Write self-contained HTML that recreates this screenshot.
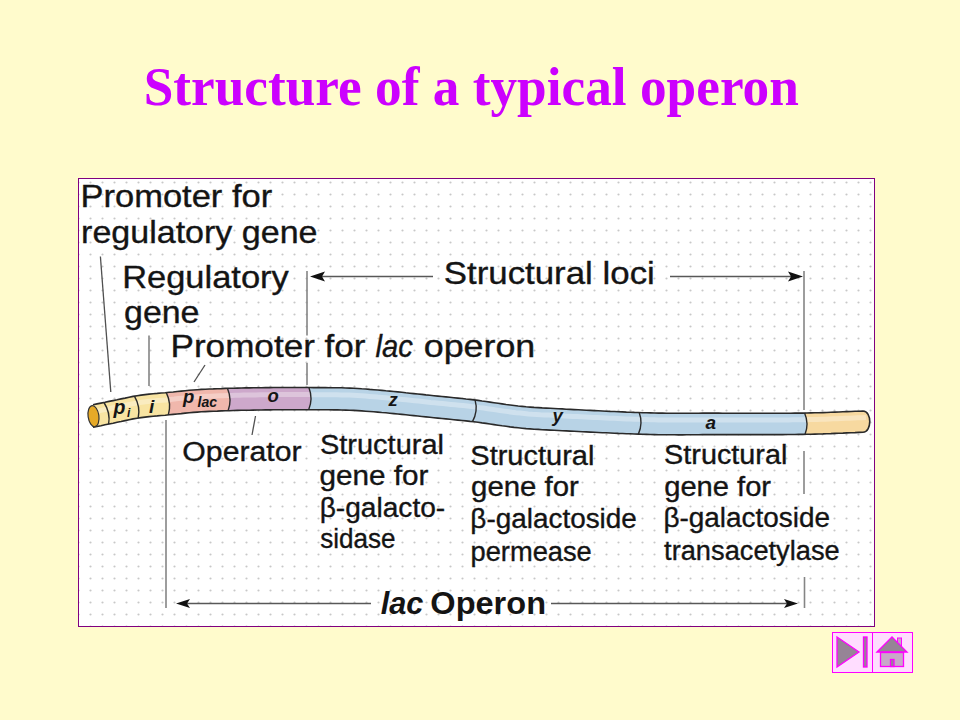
<!DOCTYPE html>
<html>
<head>
<meta charset="utf-8">
<style>
html,body{margin:0;padding:0;}
body{width:960px;height:720px;overflow:hidden;background:#FFFBCC;position:relative;}
svg{position:absolute;left:0;top:0;}
.t{font-family:"Liberation Sans",sans-serif;fill:#141414;stroke:#141414;stroke-width:0.35px;}
.ttl{font-family:"Liberation Serif",serif;font-weight:bold;fill:#CC00FF;}
</style>
</head>
<body>
<svg width="960" height="720" viewBox="0 0 960 720">
<defs>
<pattern id="dots" x="0" y="0" width="12" height="12" patternUnits="userSpaceOnUse">
<circle cx="6.5" cy="2.5" r="1.1" fill="#c8c8c8"/>
</pattern>
</defs>
<!-- title -->
<text x="143.68" y="105.20" font-size="55" textLength="655.20" lengthAdjust="spacingAndGlyphs" class="ttl">Structure of a typical operon</text>


<!-- diagram box -->
<rect x="78.5" y="178.5" width="796" height="448" fill="#ffffff" stroke="#800080" stroke-width="1"/>
<rect x="79" y="179" width="795" height="447" fill="url(#dots)"/>

<!-- labels -->
<g class="t">
<text x="80.47" y="206.50" font-size="31.5" textLength="191.70" lengthAdjust="spacingAndGlyphs">Promoter for</text>
<text x="81.05" y="242.50" font-size="31.5" textLength="236.45" lengthAdjust="spacingAndGlyphs">regulatory gene</text>
<text x="122.17" y="287.50" font-size="31.5" textLength="166.63" lengthAdjust="spacingAndGlyphs">Regulatory</text>
<text x="124.09" y="322.80" font-size="31.5" textLength="75.40" lengthAdjust="spacingAndGlyphs">gene</text>
<text x="170.52" y="357.00" font-size="31.5" textLength="195.06" lengthAdjust="spacingAndGlyphs">Promoter for</text>
<text x="375.53" y="357.00" font-size="31.5" textLength="37.38" lengthAdjust="spacingAndGlyphs" font-style="italic">lac</text>
<text x="423.71" y="357.00" font-size="31.5" textLength="111.61" lengthAdjust="spacingAndGlyphs">operon</text>
<text x="443.73" y="283.50" font-size="32" textLength="211.11" lengthAdjust="spacingAndGlyphs">Structural loci</text>
<text x="182.38" y="461.00" font-size="27" textLength="119.11" lengthAdjust="spacingAndGlyphs">Operator</text>
<text x="320.00" y="454.00" font-size="27" textLength="123.94" lengthAdjust="spacingAndGlyphs">Structural</text>
<text x="319.57" y="485.00" font-size="27" textLength="108.92" lengthAdjust="spacingAndGlyphs">gene for</text>
<text x="319.66" y="517.00" font-size="27" textLength="125.57" lengthAdjust="spacingAndGlyphs">β-galacto-</text>
<text x="320.18" y="548.30" font-size="27" textLength="75.27" lengthAdjust="spacingAndGlyphs">sidase</text>
<text x="470.29" y="465.00" font-size="27" textLength="124.14" lengthAdjust="spacingAndGlyphs">Structural</text>
<text x="471.08" y="496.00" font-size="27" textLength="107.80" lengthAdjust="spacingAndGlyphs">gene for</text>
<text x="470.38" y="528.00" font-size="27" textLength="166.46" lengthAdjust="spacingAndGlyphs">β-galactoside</text>
<text x="470.55" y="560.70" font-size="27" textLength="121.25" lengthAdjust="spacingAndGlyphs">permease</text>
<text x="664.10" y="464.20" font-size="27" textLength="123.22" lengthAdjust="spacingAndGlyphs">Structural</text>
<text x="664.19" y="495.80" font-size="27" textLength="106.89" lengthAdjust="spacingAndGlyphs">gene for</text>
<text x="663.47" y="527.00" font-size="27" textLength="166.56" lengthAdjust="spacingAndGlyphs">β-galactoside</text>
<text x="664.09" y="559.50" font-size="27" textLength="175.61" lengthAdjust="spacingAndGlyphs">transacetylase</text>
<text x="380.73" y="613.70" font-size="31" textLength="42.72" lengthAdjust="spacingAndGlyphs" font-style="italic" font-weight="bold" stroke-width="0">lac</text>
<text x="430.37" y="613.70" font-size="31" textLength="115.64" lengthAdjust="spacingAndGlyphs" font-weight="bold" stroke-width="0">Operon</text>

</g>

<path d="M93 404.7 L98.5 403.6 L104 402.5 Q110.7 413 108.6 424.1 L103.4 425.2 L98.2 426.2 L93 427.3 Z" fill="#F8E4A2"/>
<path d="M104 402.5 L108.3 401.6 L112.7 400.7 L117 399.8 L121.4 398.9 L125.7 397.9 L130.1 397 L134.4 396.2 Q140.7 406.9 138.2 418 L133.9 418.8 L129.7 419.6 L125.5 420.5 L121.3 421.4 L117.1 422.3 L112.9 423.2 L108.6 424.1 Q110.7 413 104 402.5 Z" fill="#F8E4A2"/>
<path d="M134.4 396.2 L139 395.4 L143.5 394.8 L148.1 394.2 L152.6 393.8 L157.2 393.4 L161.7 393 L166.3 392.6 Q171.7 403.6 168.3 414.9 L164 415.3 L159.7 415.6 L155.4 416 L151.1 416.4 L146.8 416.9 L142.5 417.4 L138.2 418 Q140.7 406.9 134.4 396.2 Z" fill="#F8E4A2"/>
<path d="M166.3 392.6 L170.3 392.2 L174.4 391.8 L178.5 391.4 L182.6 391 L186.7 390.6 L190.7 390.2 L194.8 389.8 L198.9 389.6 L203 389.3 L207.1 389.1 L211.1 389 L215.2 388.8 L219.3 388.6 L223.4 388.5 L227.5 388.4 Q232.2 399.5 228.1 410.7 L223.9 410.8 L219.6 411 L215.3 411.2 L211 411.3 L206.8 411.5 L202.5 411.8 L198.2 412 L194 412.3 L189.7 412.7 L185.4 413.1 L181.2 413.6 L176.9 414 L172.6 414.5 L168.3 414.9 Q171.7 403.6 166.3 392.6 Z" fill="#F0B7AC"/>
<path d="M227.5 388.4 L231.5 388.2 L235.6 388.1 L239.7 388 L243.8 388 L247.8 387.9 L251.9 387.8 L256 387.7 L260 387.7 L264.1 387.6 L268.2 387.6 L272.2 387.6 L276.3 387.5 L280.4 387.5 L284.4 387.5 L288.5 387.5 L292.6 387.5 L296.7 387.5 L300.7 387.5 L304.8 387.5 L308.9 387.5 Q313.2 398.6 308.7 409.7 L304.7 409.7 L300.7 409.7 L296.6 409.7 L292.6 409.7 L288.6 409.7 L284.6 409.7 L280.5 409.8 L276.5 409.8 L272.5 409.8 L268.4 409.9 L264.4 409.9 L260.4 410 L256.3 410 L252.3 410.1 L248.3 410.2 L244.2 410.3 L240.2 410.4 L236.2 410.5 L232.2 410.6 L228.1 410.7 Q232.2 399.5 227.5 388.4 Z" fill="#CDA8CB"/>
<path d="M308.9 387.5 L312.9 387.6 L317 387.6 L321 387.6 L325.1 387.6 L329.1 387.7 L333.2 387.7 L337.3 387.8 L341.3 387.8 L345.4 387.9 L349.4 388.1 L353.5 388.3 L357.5 388.5 L361.6 388.8 L365.6 389 L369.7 389.4 L373.8 389.7 L377.8 390 L381.9 390.4 L385.9 390.8 L390 391.2 L394 391.6 L398.1 392 L402.1 392.4 L406.2 392.8 L410.3 393.2 L414.3 393.7 L418.4 394.1 L422.4 394.5 L426.5 394.9 L430.5 395.4 L434.6 395.8 L438.6 396.2 L442.7 396.6 L446.8 397 L450.8 397.4 L454.9 397.8 L458.9 398.2 L463 398.7 L467 399.1 L471.1 399.6 L475.1 400.1 Q478.2 411 472.5 421.6 L468.4 421.2 L464.3 420.7 L460.2 420.3 L456.1 419.9 L452 419.5 L447.9 419.1 L443.8 418.7 L439.7 418.3 L435.6 417.9 L431.5 417.4 L427.4 417 L423.3 416.6 L419.2 416.2 L415.2 415.8 L411.1 415.3 L407 414.9 L402.9 414.5 L398.8 414.1 L394.7 413.7 L390.6 413.3 L386.5 412.9 L382.4 412.5 L378.3 412.2 L374.2 411.8 L370.1 411.5 L366 411.2 L361.9 410.9 L357.8 410.6 L353.8 410.4 L349.7 410.2 L345.6 410.1 L341.5 410 L337.4 409.9 L333.3 409.9 L329.2 409.8 L325.1 409.8 L321 409.8 L316.9 409.8 L312.8 409.8 L308.7 409.7 Q313.2 398.6 308.9 387.5 Z" fill="#B8D3E6"/>
<path d="M475.1 400.1 L479.1 400.6 L483.1 401.1 L487.1 401.7 L491.1 402.3 L495.1 402.9 L499.2 403.5 L503.2 404.1 L507.2 404.6 L511.2 405.2 L515.2 405.6 L519.2 406.1 L523.2 406.5 L527.2 406.9 L531.2 407.2 L535.2 407.4 L539.2 407.7 L543.2 407.9 L547.2 408.2 L551.2 408.4 L555.2 408.6 L559.2 408.8 L563.2 409 L567.2 409.2 L571.2 409.4 L575.2 409.6 L579.2 409.8 L583.2 410 L587.2 410.2 L591.2 410.4 L595.2 410.6 L599.2 410.8 L603.2 411 L607.2 411.2 L611.2 411.4 L615.2 411.6 L619.2 411.7 L623.2 411.9 L627.2 412.1 L631.2 412.3 L635.2 412.4 L639.2 412.6 Q643.2 423.4 638.4 434.1 L634.4 434 L630.3 433.8 L626.3 433.7 L622.2 433.5 L618.2 433.4 L614.1 433.2 L610.1 433 L606 432.8 L602 432.6 L597.9 432.5 L593.9 432.3 L589.8 432.1 L585.8 431.9 L581.7 431.7 L577.7 431.5 L573.6 431.3 L569.6 431.1 L565.5 430.9 L561.5 430.7 L557.5 430.4 L553.4 430.2 L549.4 430 L545.3 429.8 L541.3 429.6 L537.2 429.4 L533.2 429.1 L529.1 428.8 L525.1 428.5 L521 428.1 L517 427.7 L512.9 427.2 L508.9 426.7 L504.8 426.1 L500.8 425.6 L496.7 425 L492.7 424.4 L488.6 423.8 L484.6 423.2 L480.6 422.7 L476.5 422.1 L472.5 421.6 Q478.2 411 475.1 400.1 Z" fill="#B8D3E6"/>
<path d="M639.2 412.6 L643.2 412.7 L647.3 412.8 L651.3 412.9 L655.3 413 L659.4 413.1 L663.4 413.2 L667.4 413.2 L671.5 413.2 L675.5 413.3 L679.5 413.3 L683.6 413.3 L687.6 413.3 L691.7 413.2 L695.7 413.2 L699.7 413.1 L703.8 413.1 L707.8 413.1 L711.8 413.1 L715.9 413.1 L719.9 413.1 L723.9 413.2 L728 413.2 L732 413.2 L736 413.2 L740.1 413.2 L744.1 413.2 L748.1 413.2 L752.2 413.2 L756.2 413.2 L760.3 413.2 L764.3 413.2 L768.3 413.2 L772.4 413.2 L776.4 413.2 L780.4 413.2 L784.5 413.2 L788.5 413.2 L792.5 413.2 L796.6 413.1 L800.6 413.1 L804.6 413 Q809.2 423.7 805 434.4 L800.9 434.4 L796.8 434.5 L792.8 434.5 L788.7 434.5 L784.6 434.6 L780.6 434.6 L776.5 434.6 L772.5 434.6 L768.4 434.6 L764.3 434.6 L760.3 434.6 L756.2 434.6 L752.1 434.6 L748.1 434.6 L744 434.6 L740 434.6 L735.9 434.6 L731.8 434.6 L727.8 434.6 L723.7 434.6 L719.7 434.6 L715.6 434.6 L711.5 434.6 L707.5 434.6 L703.4 434.6 L699.3 434.7 L695.3 434.7 L691.2 434.8 L687.2 434.8 L683.1 434.9 L679 434.9 L675 434.8 L670.9 434.8 L666.8 434.8 L662.8 434.7 L658.7 434.7 L654.7 434.6 L650.6 434.5 L646.5 434.4 L642.5 434.3 L638.4 434.1 Q643.2 423.4 639.2 412.6 Z" fill="#B8D3E6"/>
<path d="M804.6 413 L808.8 413 L813 412.9 L817.1 412.8 L821.3 412.7 L825.5 412.5 L829.7 412.4 L833.8 412.2 L838 412 L842.2 411.8 L846.3 411.7 L850.5 411.5 L854.7 411.3 L858.8 411.2 L863 411 C872 411 872 432.2 863 432.2 L858.9 432.4 L854.7 432.6 L850.6 432.7 L846.4 432.9 L842.3 433.1 L838.1 433.3 L834 433.5 L829.8 433.6 L825.7 433.8 L821.5 433.9 L817.4 434.1 L813.3 434.2 L809.1 434.3 L805 434.4 Q809.2 423.7 804.6 413 Z" fill="#F7D9A0"/>
<path d="M97 411.2 L101.1 410.4 L105.1 409.5 L109.2 408.7 L113.3 407.8 L117.3 407 L121.4 406.1 L125.5 405.2 L129.6 404.4 L133.6 403.6 L137.7 402.9 L141.8 402.3 L145.8 401.7 L149.9 401.3 L154 400.9 L158 400.5 L162.1 400.2 L166.2 399.9 L170.2 399.5 L174.3 399.1 L178.4 398.6 L182.4 398.2 L186.5 397.8 L190.6 397.4 L194.7 397.1 L198.7 396.8 L202.8 396.5 L206.9 396.3 L210.9 396.2 L215 396 L219.1 395.8 L223.1 395.7 L227.2 395.5 L231.3 395.4 L235.3 395.3 L239.4 395.2 L243.5 395.1 L247.5 395 L251.6 395 L255.7 394.9 L259.8 394.8 L263.8 394.8 L267.9 394.7 L272 394.7 L276 394.7 L280.1 394.6 L284.2 394.6 L288.2 394.6 L292.3 394.6 L296.4 394.6 L300.4 394.6 L304.5 394.6 L308.6 394.6 L312.6 394.7 L316.7 394.7 L320.8 394.7 L324.9 394.7 L328.9 394.7 L333 394.8 L337.1 394.8 L341.1 394.9 L345.2 395 L349.3 395.1 L353.3 395.3 L357.4 395.5 L361.5 395.8 L365.5 396.1 L369.6 396.4 L373.7 396.7 L377.7 397.1 L381.8 397.4 L385.9 397.8 L390 398.2 L394 398.6 L398.1 399 L402.2 399.4 L406.2 399.8 L410.3 400.2 L414.4 400.7 L418.4 401.1 L422.5 401.5 L426.6 401.9 L430.6 402.4 L434.7 402.8 L438.8 403.2 L442.8 403.6 L446.9 404 L451 404.4 L455.1 404.8 L459.1 405.2 L463.2 405.6 L467.3 406.1 L471.3 406.6 L475.4 407 L479.5 407.6 L483.5 408.1 L487.6 408.7 L491.7 409.3 L495.7 409.9 L499.8 410.5 L503.9 411.1 L507.9 411.6 L512 412.2 L516.1 412.7 L520.2 413.1 L524.2 413.5 L528.3 413.9 L532.4 414.2 L536.4 414.4 L540.5 414.7 L544.6 414.9 L548.6 415.1 L552.7 415.3 L556.8 415.5 L560.8 415.7 L564.9 416 L569 416.2 L573 416.4 L577.1 416.6 L581.2 416.8 L585.3 417 L589.3 417.2 L593.4 417.4 L597.5 417.6 L601.5 417.8 L605.6 418 L609.7 418.2 L613.7 418.3 L617.8 418.5 L621.9 418.7 L625.9 418.9 L630 419 L634.1 419.2 L638.1 419.3 L642.2 419.5 L646.3 419.6 L650.4 419.7 L654.4 419.8 L658.5 419.9 L662.6 419.9 L666.6 420 L670.7 420 L674.8 420.1 L678.8 420.1 L682.9 420.1 L687 420.1 L691 420 L695.1 419.9 L699.2 419.9 L703.2 419.9 L707.3 419.9 L711.4 419.9 L715.5 419.9 L719.5 419.9 L723.6 419.9 L727.7 419.9 L731.7 419.9 L735.8 419.9 L739.9 419.9 L743.9 419.9 L748 419.9 L752.1 419.9 L756.1 419.9 L760.2 419.9 L764.3 419.9 L768.3 419.9 L772.4 419.9 L776.5 419.9 L780.6 419.9 L784.6 419.9 L788.7 419.9 L792.8 419.8 L796.8 419.8 L800.9 419.8 L805 419.7 L809 419.6 L813.1 419.5 L817.2 419.4 L821.2 419.3 L825.3 419.2 L829.4 419 L833.4 418.8 L837.5 418.7 L841.6 418.5 L845.7 418.3 L849.7 418.2 L853.8 418 L857.9 417.8 L861.9 417.7 L866 417.5" fill="none" stroke="#ffffff" stroke-opacity="0.32" stroke-width="5"/>
<path d="M93 404.7 L97 403.9 L101 403.1 L105 402.3 L109 401.4 L113.1 400.6 L117.1 399.8 L121.1 398.9 L125.1 398.1 L129.1 397.2 L133.1 396.4 L137.1 395.7 L141.1 395.1 L145.1 394.6 L149.1 394.1 L153.2 393.7 L157.2 393.4 L161.2 393 L165.2 392.7 L169.2 392.3 L173.2 392 L177.2 391.5 L181.2 391.1 L185.2 390.7 L189.2 390.3 L193.3 390 L197.3 389.7 L201.3 389.4 L205.3 389.2 L209.3 389 L213.3 388.9 L217.3 388.7 L221.3 388.6 L225.3 388.4 L229.4 388.3 L233.4 388.2 L237.4 388.1 L241.4 388 L245.4 387.9 L249.4 387.9 L253.4 387.8 L257.4 387.7 L261.4 387.7 L265.4 387.6 L269.5 387.6 L273.5 387.5 L277.5 387.5 L281.5 387.5 L285.5 387.5 L289.5 387.5 L293.5 387.5 L297.5 387.5 L301.5 387.5 L305.6 387.5 L309.6 387.5 L313.6 387.6 L317.6 387.6 L321.6 387.6 L325.6 387.6 L329.6 387.7 L333.6 387.7 L337.6 387.8 L341.6 387.8 L345.7 388 L349.7 388.1 L353.7 388.3 L357.7 388.5 L361.7 388.8 L365.7 389 L369.7 389.4 L373.7 389.7 L377.7 390 L381.8 390.4 L385.8 390.8 L389.8 391.1 L393.8 391.5 L397.8 391.9 L401.8 392.3 L405.8 392.8 L409.8 393.2 L413.8 393.6 L417.8 394 L421.9 394.4 L425.9 394.9 L429.9 395.3 L433.9 395.7 L437.9 396.1 L441.9 396.5 L445.9 396.9 L449.9 397.3 L453.9 397.7 L457.9 398.1 L462 398.5 L466 399 L470 399.4 L474 399.9 L478 400.4 L482 401 L486 401.5 L490 402.1 L494 402.7 L498.1 403.3 L502.1 403.9 L506.1 404.5 L510.1 405 L514.1 405.5 L518.1 406 L522.1 406.4 L526.1 406.8 L530.1 407.1 L534.1 407.4 L538.2 407.6 L542.2 407.9 L546.2 408.1 L550.2 408.3 L554.2 408.5 L558.2 408.7 L562.2 408.9 L566.2 409.2 L570.2 409.4 L574.2 409.6 L578.3 409.8 L582.3 410 L586.3 410.2 L590.3 410.4 L594.3 410.6 L598.3 410.8 L602.3 411 L606.3 411.2 L610.3 411.4 L614.4 411.5 L618.4 411.7 L622.4 411.9 L626.4 412.1 L630.4 412.2 L634.4 412.4 L638.4 412.5 L642.4 412.7 L646.4 412.8 L650.4 412.9 L654.5 413 L658.5 413.1 L662.5 413.1 L666.5 413.2 L670.5 413.2 L674.5 413.3 L678.5 413.3 L682.5 413.3 L686.5 413.3 L690.6 413.3 L694.6 413.2 L698.6 413.2 L702.6 413.1 L706.6 413.1 L710.6 413.1 L714.6 413.1 L718.6 413.1 L722.6 413.2 L726.6 413.2 L730.7 413.2 L734.7 413.2 L738.7 413.2 L742.7 413.2 L746.7 413.2 L750.7 413.2 L754.7 413.2 L758.7 413.2 L762.7 413.2 L766.8 413.2 L770.8 413.2 L774.8 413.2 L778.8 413.2 L782.8 413.2 L786.8 413.2 L790.8 413.2 L794.8 413.1 L798.8 413.1 L802.8 413.1 L806.9 413 L810.9 412.9 L814.9 412.8 L818.9 412.7 L822.9 412.6 L826.9 412.5 L830.9 412.3 L834.9 412.1 L838.9 412 L842.9 411.8 L847 411.6 L851 411.5 L855 411.3 L859 411.2 L863 411 C872 411 872 432.2 863 432.2 L859 432.4 L855 432.6 L851 432.7 L847 432.9 L842.9 433.1 L838.9 433.2 L834.9 433.4 L830.9 433.6 L826.9 433.7 L822.9 433.9 L818.9 434 L814.9 434.1 L810.9 434.2 L806.9 434.3 L802.8 434.4 L798.8 434.4 L794.8 434.5 L790.8 434.5 L786.8 434.5 L782.8 434.6 L778.8 434.6 L774.8 434.6 L770.8 434.6 L766.8 434.6 L762.7 434.6 L758.7 434.6 L754.7 434.6 L750.7 434.6 L746.7 434.6 L742.7 434.6 L738.7 434.6 L734.7 434.6 L730.7 434.6 L726.6 434.6 L722.6 434.6 L718.6 434.6 L714.6 434.6 L710.6 434.6 L706.6 434.6 L702.6 434.6 L698.6 434.7 L694.6 434.7 L690.6 434.8 L686.5 434.8 L682.5 434.9 L678.5 434.9 L674.5 434.8 L670.5 434.8 L666.5 434.8 L662.5 434.7 L658.5 434.7 L654.5 434.6 L650.4 434.5 L646.4 434.4 L642.4 434.3 L638.4 434.1 L634.4 434 L630.4 433.8 L626.4 433.7 L622.4 433.5 L618.4 433.4 L614.4 433.2 L610.3 433 L606.3 432.8 L602.3 432.7 L598.3 432.5 L594.3 432.3 L590.3 432.1 L586.3 431.9 L582.3 431.7 L578.3 431.5 L574.2 431.3 L570.2 431.1 L566.2 430.9 L562.2 430.7 L558.2 430.5 L554.2 430.3 L550.2 430.1 L546.2 429.9 L542.2 429.7 L538.2 429.4 L534.1 429.2 L530.1 428.9 L526.1 428.6 L522.1 428.2 L518.1 427.8 L514.1 427.4 L510.1 426.9 L506.1 426.3 L502.1 425.8 L498.1 425.2 L494 424.6 L490 424 L486 423.4 L482 422.9 L478 422.3 L474 421.8 L470 421.4 L466 420.9 L462 420.5 L457.9 420.1 L453.9 419.7 L449.9 419.3 L445.9 418.9 L441.9 418.5 L437.9 418.1 L433.9 417.7 L429.9 417.3 L425.9 416.9 L421.9 416.5 L417.8 416 L413.8 415.6 L409.8 415.2 L405.8 414.8 L401.8 414.4 L397.8 414 L393.8 413.6 L389.8 413.2 L385.8 412.8 L381.7 412.5 L377.7 412.1 L373.7 411.8 L369.7 411.5 L365.7 411.2 L361.7 410.9 L357.7 410.6 L353.7 410.4 L349.7 410.2 L345.7 410.1 L341.6 410 L337.6 409.9 L333.6 409.9 L329.6 409.8 L325.6 409.8 L321.6 409.8 L317.6 409.8 L313.6 409.8 L309.6 409.8 L305.6 409.7 L301.5 409.7 L297.5 409.7 L293.5 409.7 L289.5 409.7 L285.5 409.7 L281.5 409.8 L277.5 409.8 L273.5 409.8 L269.5 409.9 L265.4 409.9 L261.4 410 L257.4 410 L253.4 410.1 L249.4 410.2 L245.4 410.3 L241.4 410.3 L237.4 410.4 L233.4 410.5 L229.4 410.7 L225.3 410.8 L221.3 410.9 L217.3 411.1 L213.3 411.2 L209.3 411.4 L205.3 411.6 L201.3 411.8 L197.3 412.1 L193.3 412.4 L189.2 412.7 L185.2 413.1 L181.2 413.6 L177.2 414 L173.2 414.4 L169.2 414.8 L165.2 415.2 L161.2 415.5 L157.2 415.9 L153.2 416.2 L149.1 416.6 L145.1 417.1 L141.1 417.6 L137.1 418.2 L133.1 418.9 L129.1 419.7 L125.1 420.6 L121.1 421.5 L117.1 422.3 L113.1 423.2 L109 424 L105 424.8 L101 425.7 L97 426.5 L93 427.3" fill="none" stroke="#2a2a2a" stroke-width="1.6"/>
<path d="M104 402.5 Q110.7 413 108.6 424.1" fill="none" stroke="#2a2a2a" stroke-width="1.4"/>
<path d="M134.4 396.2 Q140.7 406.9 138.2 418" fill="none" stroke="#2a2a2a" stroke-width="1.4"/>
<path d="M166.3 392.6 Q171.7 403.6 168.3 414.9" fill="none" stroke="#2a2a2a" stroke-width="1.4"/>
<path d="M227.5 388.4 Q232.2 399.5 228.1 410.7" fill="none" stroke="#2a2a2a" stroke-width="1.4"/>
<path d="M308.9 387.5 Q313.2 398.6 308.7 409.7" fill="none" stroke="#2a2a2a" stroke-width="1.4"/>
<path d="M475.1 400.1 Q478.2 411 472.5 421.6" fill="none" stroke="#2a2a2a" stroke-width="1.4"/>
<path d="M639.2 412.6 Q643.2 423.4 638.4 434.1" fill="none" stroke="#2a2a2a" stroke-width="1.4"/>
<path d="M804.6 413 Q809.2 423.7 805 434.4" fill="none" stroke="#2a2a2a" stroke-width="1.4"/>
<ellipse cx="93.5" cy="416.2" rx="5.4" ry="10.6" transform="rotate(-8 93.5 416.2)" fill="#E6AA28" stroke="#333" stroke-width="1.2"/>

<g font-family="Liberation Sans" font-weight="bold" font-style="italic" fill="#151515">
<text x="113.5" y="413.5" font-size="19.5">p</text><text x="127" y="416.5" font-size="12">i</text>
<text x="149" y="412.5" font-size="19">i</text>
<text x="183" y="403" font-size="18.5">p</text><text x="197.5" y="406.7" font-size="14.5" textLength="19.5" lengthAdjust="spacingAndGlyphs">lac</text>
<text x="267.5" y="401.5" font-size="18.5">o</text>
<text x="388.5" y="405.8" font-size="18.5">z</text>
<text x="552.5" y="422.3" font-size="18.5">y</text>
<text x="705.5" y="428.8" font-size="19">a</text>
</g>
<!-- lines -->
<g stroke="#505050" stroke-width="1.3" fill="none">
<line x1="100.4" y1="256.5" x2="110.8" y2="392"/>
<line x1="205" y1="365" x2="194" y2="382"/>
<line x1="255.5" y1="416" x2="252" y2="435"/>
</g>
<g stroke="#858585" stroke-width="1.6" fill="none">
<line x1="149" y1="335.5" x2="149" y2="386"/>
<line x1="307" y1="271" x2="307" y2="335.5"/><line x1="307" y1="363" x2="307" y2="385"/>
<line x1="804" y1="271" x2="804" y2="410"/>
<line x1="166" y1="420" x2="166" y2="608"/>
<line x1="804" y1="451" x2="804" y2="494"/>
<line x1="804.5" y1="577" x2="804.5" y2="608"/>
</g>
<g stroke="#585858" stroke-width="1.7" fill="none">
<line x1="318" y1="276.5" x2="433" y2="276.5"/>
<line x1="670" y1="276.5" x2="795" y2="276.5"/>
<line x1="184" y1="603.5" x2="371" y2="603.5"/>
<line x1="551" y1="603.5" x2="790" y2="603.5"/>
</g>
<g fill="#111">
<path d="M310 276.5 L325 271.5 L322 276.5 L325 281.5 Z"/>
<path d="M803 276.5 L788 271.5 L791 276.5 L788 281.5 Z"/>
<path d="M176 603.5 L190 599 L187 603.5 L190 608 Z"/>
<path d="M798 603.5 L784 599 L787 603.5 L784 608 Z"/>
</g>

<!-- buttons -->
<g>
<rect x="832.5" y="632.5" width="40" height="40" fill="#FFDDFF" stroke="#FF00FF" stroke-width="1"/>
<rect x="872.5" y="632.5" width="40" height="40" fill="#FFDDFF" stroke="#FF00FF" stroke-width="1"/>
<path d="M837 637 L859 652 L837 667 Z" fill="#968496" stroke="#FF00FF" stroke-width="1.3"/>
<rect x="863.5" y="637" width="3.5" height="30" fill="#968496" stroke="#FF00FF" stroke-width="1.3"/>
<rect x="897.5" y="638" width="4" height="8" fill="#C8A8C8" stroke="#FF00FF" stroke-width="1"/>
<path d="M877 652 L892 637 L907 652 Z" fill="#968496" stroke="#FF00FF" stroke-width="1.3"/>
<rect x="880.5" y="652.5" width="23" height="14" fill="#C8A8C8" stroke="#FF00FF" stroke-width="1.3"/>
<rect x="890.5" y="659.5" width="3.5" height="7" fill="#968496" stroke="#FF00FF" stroke-width="1.3"/>
</g>
</svg>
</body>
</html>
